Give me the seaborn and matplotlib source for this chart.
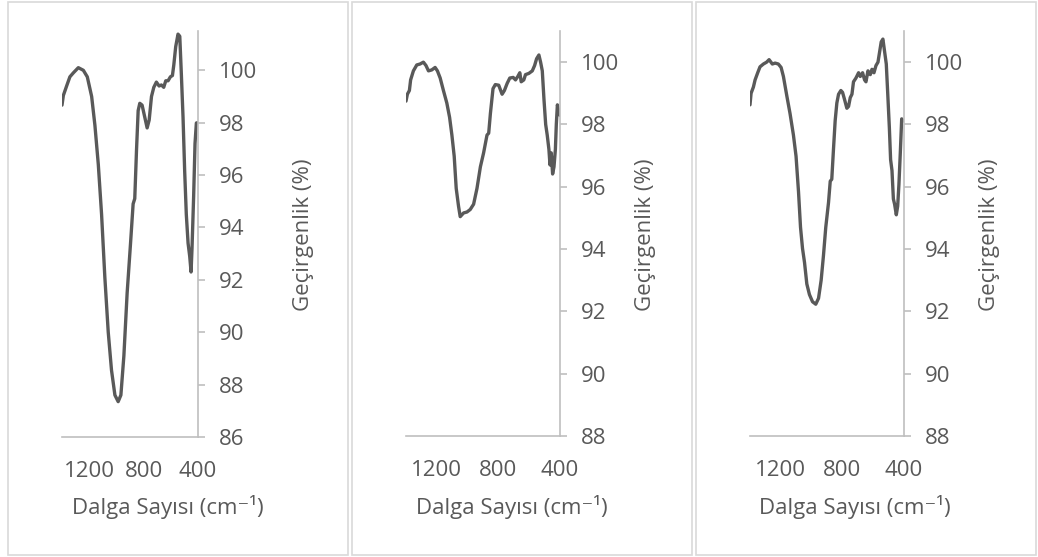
import numpy as np
import pandas as pd
import matplotlib
matplotlib.use("Agg")
import matplotlib.pyplot as plt
import seaborn as sns
from matplotlib.patches import Rectangle

# FTIR spectra: wavenumber (cm-1) and transmittance (%) for three samples
wn_a = [1400, 1390, 1366, 1342, 1317, 1280, 1243, 1214, 1182, 1158, 1133, 1109, 1085,
        1060, 1036, 1011, 987, 967, 945, 921, 896, 877, 865, 852, 840, 828, 811, 791,
        774, 759, 742, 725, 706, 686, 669, 652, 637, 620, 603, 588, 578, 564, 547, 534,
        522, 510, 498, 486, 473, 461, 451, 444, 432, 422, 412, 400]
tr_a = [98.67, 99.04, 99.40, 99.75, 99.90, 100.10, 100.00, 99.75, 99.00, 97.90, 96.40,
        94.50, 92.10, 90.00, 88.55, 87.60, 87.35, 87.60, 89.10, 91.50, 93.40, 94.90, 95.10,
        96.97, 98.46, 98.74, 98.67, 98.20, 97.80, 98.10, 99.00, 99.35, 99.55, 99.40, 99.44,
        99.35, 99.60, 99.60, 99.75, 99.80, 100.20, 100.90, 101.38, 101.30, 99.80, 98.20,
        96.15, 94.50, 93.40, 92.90, 92.30, 93.20, 95.20, 97.20, 97.99, 98.00]

wn_b = [1400, 1391, 1378, 1370, 1352, 1330, 1309, 1287, 1270, 1254, 1233, 1211, 1196,
        1178, 1157, 1135, 1117, 1102, 1087, 1074, 1059, 1048, 1026, 1004, 983, 961, 939,
        917, 896, 874, 863, 852, 835, 820, 798, 776, 761, 743, 726, 704, 689, 674, 661,
        652, 635, 624, 602, 580, 565, 552, 537, 526, 515, 504, 493, 483, 472, 465, 457,
        448, 439, 430, 424, 417, 409, 400]
tr_b = [98.75, 98.97, 99.09, 99.43, 99.72, 99.91, 99.94, 100.00, 99.89, 99.72, 99.75,
        99.83, 99.72, 99.49, 99.09, 98.69, 98.23, 97.66, 96.98, 95.95, 95.38, 95.04, 95.16,
        95.19, 95.27, 95.44, 95.95, 96.64, 97.09, 97.66, 97.72, 98.35, 99.15, 99.28, 99.26,
        98.97, 99.09, 99.32, 99.49, 99.51, 99.43, 99.54, 99.66, 99.37, 99.43, 99.60, 99.64,
        99.72, 99.89, 100.11, 100.23, 100.00, 99.72, 98.80, 98.00, 97.66, 97.20, 96.70,
        97.09, 96.41, 96.64, 97.20, 98.00, 98.63, 98.46, 98.29]

wn_c = [1400, 1393, 1378, 1367, 1350, 1335, 1313, 1292, 1276, 1255, 1237, 1216, 1198,
        1183, 1161, 1140, 1118, 1101, 1085, 1072, 1059, 1046, 1031, 1014, 994, 973, 955,
        938, 923, 908, 890, 879, 869, 858, 847, 836, 825, 810, 799, 786, 771, 760, 749,
        738, 728, 712, 695, 684, 669, 656, 647, 634, 619, 608, 595, 582, 569, 558, 548,
        537, 526, 515, 506, 495, 487, 478, 469, 461, 450, 441, 433, 424, 415, 407, 400]
tr_c = [98.63, 99.00, 99.20, 99.43, 99.66, 99.85, 99.94, 100.00, 100.08, 99.94, 99.97,
        99.94, 99.83, 99.54, 98.92, 98.35, 97.66, 96.98, 95.84, 94.70, 94.02, 93.57, 92.88,
        92.54, 92.31, 92.23, 92.42, 93.00, 93.79, 94.70, 95.50, 96.18, 96.24, 97.20, 98.12,
        98.69, 98.97, 99.09, 99.03, 98.80, 98.52, 98.58, 98.86, 98.97, 99.37, 99.49, 99.66,
        99.54, 99.66, 99.43, 99.37, 99.72, 99.60, 99.77, 99.66, 99.89, 100.00, 100.34,
        100.65, 100.74, 100.34, 99.94, 99.03, 97.89, 96.87, 96.52, 95.61, 95.44, 95.10,
        95.38, 96.07, 97.09, 98.18, 98.12, 98.12]

x_ticks = [1200, 800, 400]
y_ticks_a = [86, 88, 90, 92, 94, 96, 98, 100]
y_ticks_bc = [88, 90, 92, 94, 96, 98, 100]

x_label = "Dalga Sayısı (cm⁻¹)"
y_label = "Geçirgenlik (%)"

sns.set_theme(style="white")
plt.rcParams["font.family"] = ["Open Sans", "DejaVu Sans"]

W, H = 1038, 557
TEXT = "#595959"
AXIS = "#bfbfbf"
FS = 16

fig = plt.figure(figsize=(W / 100, H / 100), dpi=100)
fig.patch.set_facecolor("white")


def px_rect(left, right, top, bottom):
    return [left / W, 1 - bottom / H, (right - left) / W, (bottom - top) / H]


# light frame around each chart
for bx in (8, 352, 696):
    fig.patches.append(Rectangle((bx / W, 2 / H), 340 / W, 553 / H,
                                 transform=fig.transFigure, fill=False,
                                 edgecolor="#d9d9d9", linewidth=1.2))

panels = [
    dict(wn=wn_a, tr=tr_a, rect=(62, 198, 31, 437), ylim=(86, 101.5), yt=y_ticks_a,
         ylab_x=303, xlab_x=168),
    dict(wn=wn_b, tr=tr_b, rect=(406, 560, 31, 436), ylim=(88, 101), yt=y_ticks_bc,
         ylab_x=646, xlab_x=512),
    dict(wn=wn_c, tr=tr_c, rect=(750, 904, 31, 436), ylim=(88, 101), yt=y_ticks_bc,
         ylab_x=990, xlab_x=855),
]

for p in panels:
    ax = fig.add_axes(px_rect(*p["rect"]))
    df = pd.DataFrame({"wn": p["wn"], "tr": p["tr"]})
    sns.lineplot(data=df, x="wn", y="tr", ax=ax, color="#595959", linewidth=2.4,
                 sort=False, estimator=None)
    ax.set_xlim(1400, 400)
    ax.set_ylim(*p["ylim"])
    ax.set_xticks(x_ticks)
    ax.set_xticklabels([str(t) for t in x_ticks])
    ax.set_yticks(p["yt"])
    ax.set_yticklabels([str(t) for t in p["yt"]])
    ax.yaxis.tick_right()
    ax.set_xlabel("")
    ax.set_ylabel("")
    ax.set_facecolor("none")
    for s in ("left", "top"):
        ax.spines[s].set_visible(False)
    for s in ("right", "bottom"):
        ax.spines[s].set_visible(True)
        ax.spines[s].set_color(AXIS)
        ax.spines[s].set_linewidth(1.2)
    ax.tick_params(axis="x", length=0, pad=17, labelsize=FS, colors=TEXT)
    ax.tick_params(axis="y", which="major", direction="out", length=5, width=1.2,
                   color=AXIS, pad=10, labelsize=FS, labelcolor=TEXT,
                   right=True, left=False, labelright=True, labelleft=False)
    ax.grid(False)

    cy = (p["rect"][2] + p["rect"][3]) / 2 + 1
    fig.text(p["ylab_x"] / W, 1 - cy / H, y_label, rotation=90, ha="center",
             va="center", fontsize=FS, color=TEXT)
    fig.text(p["xlab_x"] / W, 1 - 507 / H, x_label, ha="center", va="center",
             fontsize=FS, color=TEXT)

fig.savefig("out.png", dpi=100, facecolor="white")
